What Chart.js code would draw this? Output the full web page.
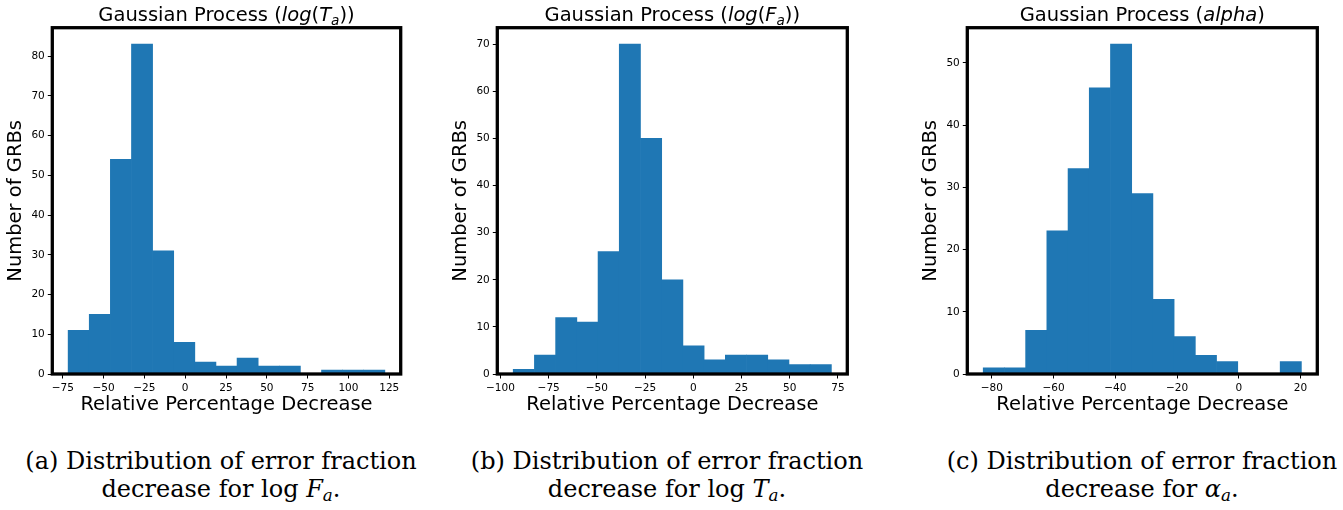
<!DOCTYPE html>
<html>
<head>
<meta charset="utf-8">
<script src="https://cdn.jsdelivr.net/npm/chart.js@4.4.0/dist/chart.umd.min.js"></script>
<style>
  html, body { margin: 0; padding: 0; background: #fff; }
  body { width: 1343px; height: 510px; position: relative; overflow: hidden; }
  .panel { position: absolute; top: 0; }
  .caption {
    position: absolute; top: 447px; width: 460px; text-align: center;
    font-family: "DejaVu Serif", serif; font-size: 24px; line-height: 28.3px; color: #000;
  }
  .caption .s { font-size: 0.7em; position: relative; top: 0.25em; font-style: italic; }
</style>
</head>
<body>
<div class="panel" style="left:0px"><canvas id="histTa" width="421" height="430"></canvas></div>
<div class="panel" style="left:445px"><canvas id="histFa" width="423" height="430"></canvas></div>
<div class="panel" style="left:915px"><canvas id="histAlpha" width="423" height="430"></canvas></div>

<div class="caption" style="left:-9px">(a) Distribution of error fraction<br>decrease for log <i>F</i><span class="s">a</span>.</div>
<div class="caption" style="left:437px">(b) Distribution of error fraction<br>decrease for log <i>T</i><span class="s">a</span>.</div>
<div class="caption" style="left:912px">(c) Distribution of error fraction<br>decrease for <i>α</i><span class="s">a</span>.</div>

<script>
// histogram data, 15 bins each
const binRangeTa = [-71.7, 122.3];
const countsTa = [11, 15, 54, 83, 31, 8, 3, 2, 4, 2, 2, 0, 1, 1, 1];

const binRangeFa = [-93.4, 71.6];
const countsFa = [1, 4, 12, 11, 26, 70, 50, 20, 6, 3, 4, 4, 3, 2, 2];

const binRangeAlpha = [-82.8, 20.3];
const countsAlpha = [1, 1, 7, 23, 33, 46, 53, 29, 12, 6, 3, 2, 0, 0, 2];

const xTickSteps = [25, 25, 20];
const yTickStep = 10;

const xLabel = "Relative Percentage Decrease";
const yLabel = "Number of GRBs";

const tickFont = { family: "DejaVu Sans", size: 10.5 };
const labelFont = { family: "DejaVu Sans", size: 19.5 };

// thick black box round the plot area
const frame = {
    id: "frame",
    afterDatasetsDraw(chart) {
        const { ctx, chartArea: a } = chart;
        ctx.save();
        ctx.strokeStyle = "#000";
        ctx.lineWidth = 3.3;
        ctx.strokeRect(a.left, a.top, a.right - a.left, a.bottom - a.top);
        ctx.restore();
    },
};

// title with mathtext-like italic / subscript pieces
const richTitle = {
    id: "richTitle",
    afterDraw(chart, args, opts) {
        const ctx = chart.ctx;
        const size = 19.5;
        const font = (p) =>
            (p.italic ? "italic " : "") + (p.sub ? size * 0.7 : size) + 'px "DejaVu Sans"';
        ctx.save();
        ctx.fillStyle = "#000";
        ctx.textBaseline = "alphabetic";
        let total = 0;
        opts.parts.forEach((p) => {
            ctx.font = font(p);
            total += ctx.measureText(p.text).width;
        });
        let x = (chart.chartArea.left + chart.chartArea.right) / 2 - total / 2;
        opts.parts.forEach((p) => {
            ctx.font = font(p);
            ctx.fillText(p.text, x, 20.7 + (p.sub ? size * 0.22 : 0));
            x += ctx.measureText(p.text).width;
        });
        ctx.restore();
    },
};

const minus = (v) => (v < 0 ? "\u2212" + Math.abs(v) : String(v));

function makeHist(id, range, counts, step, titleParts, padRight) {
    const [lo, hi] = range;
    const w = (hi - lo) / counts.length;
    const points = counts.map((c, i) => ({ x: lo + (i + 0.5) * w, y: c }));
    const margin = 0.05 * (hi - lo);
    const yMax = Math.max(...counts) * 1.05;

    return new Chart(document.getElementById(id), {
        type: "bar",
        data: {
            datasets: [
                {
                    data: points,
                    backgroundColor: "#1f77b4",
                    borderWidth: 0,
                    barPercentage: 1,
                    categoryPercentage: 1,
                },
            ],
        },
        options: {
            responsive: false,
            animation: false,
            events: [],
            layout: { padding: { top: 27.7, right: padRight, bottom: 0, left: 0 } },
            plugins: {
                legend: { display: false },
                tooltip: { enabled: false },
                richTitle: { parts: titleParts },
            },
            scales: {
                x: {
                    type: "linear",
                    min: lo - margin,
                    max: hi + margin,
                    offset: false,
                    afterFit: (s) => {
                        s.height = 56;
                    },
                    grid: {
                        offset: false,
                        drawOnChartArea: false,
                        color: "#000",
                        tickLength: 4.5,
                        lineWidth: 1,
                    },
                    border: { display: false },
                    ticks: {
                        stepSize: step,
                        includeBounds: false,
                        autoSkip: false,
                        maxRotation: 0,
                        padding: 3,
                        color: "#000",
                        font: tickFont,
                        callback: minus,
                    },
                    title: {
                        display: true,
                        text: xLabel,
                        color: "#000",
                        font: labelFont,
                        padding: { top: 0, bottom: 13 },
                    },
                },
                y: {
                    min: 0,
                    max: yMax,
                    afterFit: (s) => {
                        s.width = 52.3;
                    },
                    grid: {
                        drawOnChartArea: false,
                        color: "#000",
                        tickLength: 4.5,
                        lineWidth: 1,
                    },
                    border: { display: false },
                    ticks: {
                        stepSize: yTickStep,
                        includeBounds: false,
                        padding: 3,
                        color: "#000",
                        font: tickFont,
                    },
                    title: {
                        display: true,
                        text: yLabel,
                        color: "#000",
                        font: labelFont,
                        padding: { top: 4.3, bottom: 0 },
                    },
                },
            },
        },
        plugins: [frame, richTitle],
    });
}

const t = (text, italic, sub) => ({ text, italic: !!italic, sub: !!sub });

makeHist("histTa", binRangeTa, countsTa, xTickSteps[0],
    [t("Gaussian Process ("), t("log", 1), t("("), t("T", 1), t("a", 1, 1), t(")"), t(")")], 20.3);
makeHist("histFa", binRangeFa, countsFa, xTickSteps[1],
    [t("Gaussian Process ("), t("log", 1), t("("), t("F", 1), t("a", 1, 1), t(")"), t(")")], 20.7);
makeHist("histAlpha", binRangeAlpha, countsAlpha, xTickSteps[2],
    [t("Gaussian Process ("), t("alpha", 1), t(")")], 20.7);
</script>
</body>
</html>
